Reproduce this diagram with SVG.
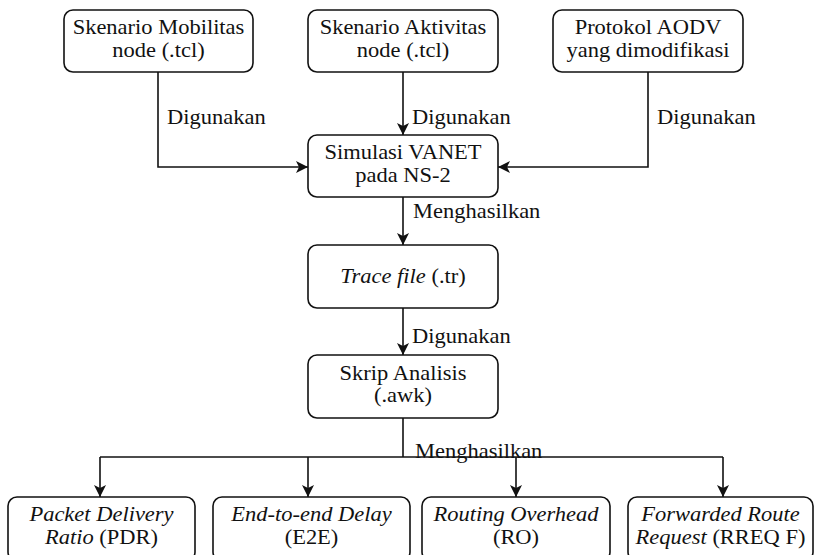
<svg xmlns="http://www.w3.org/2000/svg" width="815" height="555" viewBox="0 0 815 555" font-family="Liberation Serif" font-size="20">
  <style>
    .box { fill: #ffffff; stroke: #111111; stroke-width: 1.6; }
    .wire { fill: none; stroke: #111111; stroke-width: 1.6; }
    text { fill: #111111; }
    .c text { text-anchor: middle; }
    .it { font-style: italic; }
  </style>
  <defs>
    <marker id="arrow" viewBox="0 0 12 12" refX="12" refY="6" markerWidth="12" markerHeight="12" markerUnits="userSpaceOnUse" orient="auto">
      <path d="M0,0 L12,6 L0,12 L3,6 Z" fill="#111111"/>
    </marker>
  </defs>
  <rect width="815" height="555" fill="#ffffff"/>

  <!-- connectors -->
  <g id="connectors">
    <polyline class="wire" points="158,72 158,167 308,167" marker-end="url(#arrow)"/>
    <line class="wire" x1="403" y1="72" x2="403" y2="135" marker-end="url(#arrow)"/>
    <polyline class="wire" points="648,72 648,167 498,167" marker-end="url(#arrow)"/>
    <line class="wire" x1="403" y1="197" x2="403" y2="245" marker-end="url(#arrow)"/>
    <line class="wire" x1="403" y1="308" x2="403" y2="355" marker-end="url(#arrow)"/>
    <polyline class="wire" points="403,418 403,457"/>
    <polyline class="wire" points="100,457 723,457"/>
    <line class="wire" x1="100" y1="457" x2="100" y2="497" marker-end="url(#arrow)"/>
    <line class="wire" x1="308" y1="457" x2="308" y2="497" marker-end="url(#arrow)"/>
    <line class="wire" x1="516" y1="457" x2="516" y2="497" marker-end="url(#arrow)"/>
    <line class="wire" x1="723" y1="457" x2="723" y2="497" marker-end="url(#arrow)"/>
    <!-- connector labels -->
    <g transform="translate(167 0) scale(1.125 1)"><text x="0" y="124">Digunakan</text></g>
    <g transform="translate(412 0) scale(1.125 1)"><text x="0" y="124">Digunakan</text></g>
    <g transform="translate(657 0) scale(1.125 1)"><text x="0" y="124">Digunakan</text></g>
    <g transform="translate(413 0) scale(1.125 1)"><text x="0" y="218">Menghasilkan</text></g>
    <g transform="translate(412 0) scale(1.125 1)"><text x="0" y="343">Digunakan</text></g>
    <g transform="translate(415 0) scale(1.125 1)"><text x="0" y="458">Menghasilkan</text></g>
  </g>

  <!-- inputs -->
  <g id="mobilitas">
    <rect class="box" x="64" y="10" width="189" height="62" rx="9"/>
    <g class="c" transform="translate(158.5 0) scale(1.125 1)">
      <text x="0" y="34">Skenario Mobilitas</text>
      <text x="0" y="57">node (.tcl)</text>
    </g>
  </g>
  <g id="aktivitas">
    <rect class="box" x="308" y="10" width="190" height="62" rx="9"/>
    <g class="c" transform="translate(403 0) scale(1.125 1)">
      <text x="0" y="34">Skenario Aktivitas</text>
      <text x="0" y="57">node (.tcl)</text>
    </g>
  </g>
  <g id="aodv">
    <rect class="box" x="553" y="10" width="190" height="62" rx="9"/>
    <g class="c" transform="translate(648 0) scale(1.125 1)">
      <text x="0" y="34">Protokol AODV</text>
      <text x="0" y="57">yang dimodifikasi</text>
    </g>
  </g>

  <!-- processing chain -->
  <g id="simulasi">
    <rect class="box" x="308" y="135" width="190" height="62" rx="9"/>
    <g class="c" transform="translate(403 0) scale(1.125 1)">
      <text x="0" y="159">Simulasi VANET</text>
      <text x="0" y="182">pada NS-2</text>
    </g>
  </g>
  <g id="trace">
    <rect class="box" x="308" y="245" width="190" height="63" rx="9"/>
    <g class="c" transform="translate(403 0) scale(1.125 1)">
      <text x="0" y="283"><tspan class="it">Trace file</tspan> (.tr)</text>
    </g>
  </g>
  <g id="skrip">
    <rect class="box" x="308" y="355" width="190" height="63" rx="9"/>
    <g class="c" transform="translate(403 0) scale(1.125 1)">
      <text x="0" y="380">Skrip Analisis</text>
      <text x="0" y="402">(.awk)</text>
    </g>
  </g>

  <!-- metrics -->
  <g id="pdr">
    <rect class="box" x="8" y="497" width="187" height="64" rx="9"/>
    <g class="c" transform="translate(101.5 0) scale(1.125 1)">
      <text x="0" y="521" class="it">Packet Delivery</text>
      <text x="0" y="544"><tspan class="it">Ratio</tspan> (PDR)</text>
    </g>
  </g>
  <g id="e2e">
    <rect class="box" x="213" y="497" width="197" height="64" rx="9"/>
    <g class="c" transform="translate(311.5 0) scale(1.125 1)">
      <text x="0" y="521" class="it">End-to-end Delay</text>
      <text x="0" y="544">(E2E)</text>
    </g>
  </g>
  <g id="ro">
    <rect class="box" x="422" y="497" width="188" height="64" rx="9"/>
    <g class="c" transform="translate(516 0) scale(1.125 1)">
      <text x="0" y="521" class="it">Routing Overhead</text>
      <text x="0" y="544">(RO)</text>
    </g>
  </g>
  <g id="rreqf">
    <rect class="box" x="628" y="497" width="185" height="64" rx="9"/>
    <g class="c" transform="translate(720.5 0) scale(1.125 1)">
      <text x="0" y="521" class="it">Forwarded Route</text>
      <text x="0" y="544"><tspan class="it">Request</tspan> (RREQ F)</text>
    </g>
  </g>
</svg>
